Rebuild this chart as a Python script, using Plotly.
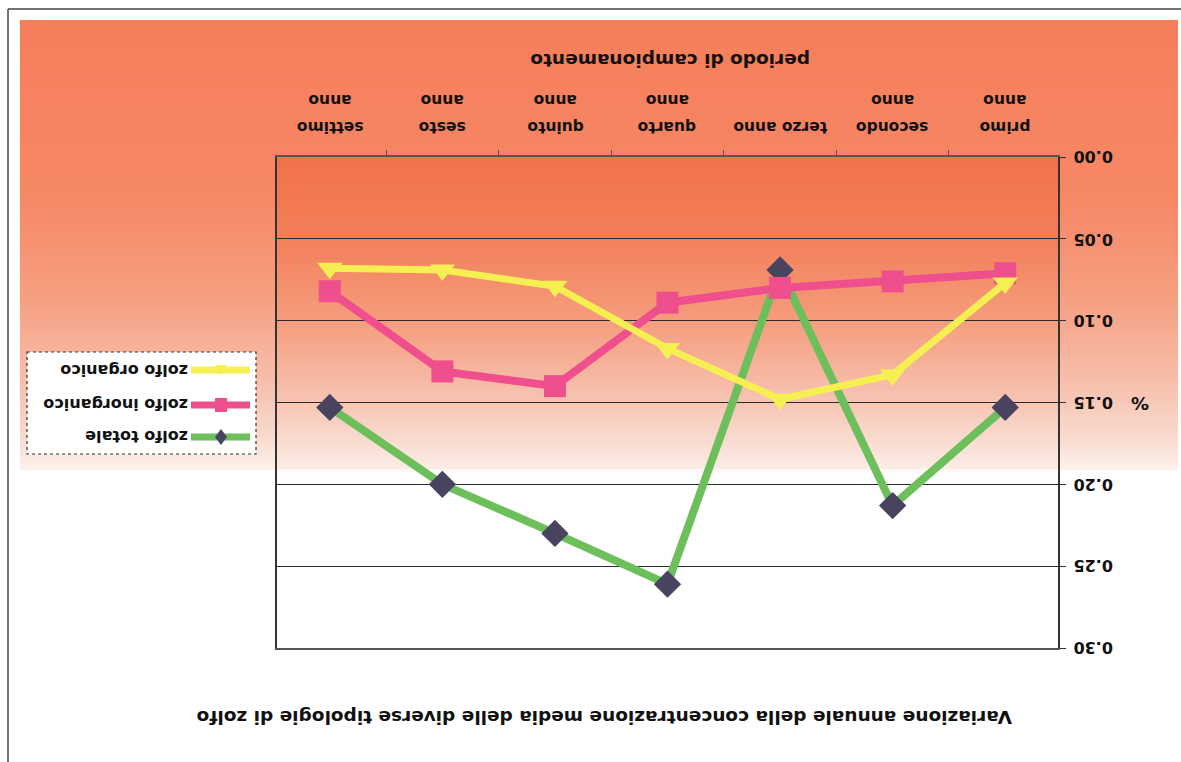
import numpy as np
import plotly.graph_objects as go

# ---- data -------------------------------------------------------------
anni = ["primo<br>anno", "secondo<br>anno", "terzo anno", "quarto<br>anno",
        "quinto<br>anno", "sesto<br>anno", "settimo<br>anno"]
zolfo_totale = [0.153, 0.213, 0.069, 0.261, 0.230, 0.200, 0.153]
zolfo_inorganico = [0.071, 0.076, 0.080, 0.089, 0.140, 0.131, 0.082]
zolfo_organico = [0.077, 0.133, 0.148, 0.117, 0.079, 0.069, 0.068]
y_ticks = [0.00, 0.05, 0.10, 0.15, 0.20, 0.25, 0.30]

titolo = "Variazione annuale della concentrazione media delle diverse tipologie di zolfo"
titolo_x = "periodo di campionamento"
titolo_y = "%"

# ---- page geometry (pixels) -------------------------------------------
W, H = 1181, 762
PL, PR, PT, PB = 277, 1058, 157, 648
FONT = "DejaVu Sans"

GREEN = "#6dbf5c"
PINK = "#ef4f8d"
YELLOW = "#f6ef52"
DIAMOND = "#484460"


def px(x):
    return x / W


def py(y):
    return 1 - y / H


shapes = []
annotations = []


def gradient(x0, x1, stops, step=3):
    ys = [s[0] for s in stops]
    cols = np.array([s[1] for s in stops], dtype=float)
    y = ys[0]
    while y < ys[-1]:
        yc = y + step / 2
        c = [np.interp(yc, ys, cols[:, k]) for k in range(3)]
        shapes.append(dict(type="rect", xref="paper", yref="paper",
                           x0=px(x0), x1=px(x1), y0=py(y), y1=py(min(y + step, ys[-1]) + 0.5),
                           fillcolor="rgb(%d,%d,%d)" % tuple(int(round(v)) for v in c),
                           line=dict(width=0), layer="below"))
        y += step


# chart-area background fading from orange to white
gradient(20, 1178, [(20, (246, 126, 90)), (200, (246, 136, 102)), (300, (246, 160, 130)),
                    (380, (247, 190, 170)), (440, (249, 220, 208)), (470, (252, 242, 238))])
# plot-area background, a little deeper at the top
gradient(PL, PR, [(PT, (242, 114, 74)), (240, (243, 128, 90)), (320, (245, 156, 125)),
                  (400, (247, 195, 178)), (468, (251, 236, 229)), (472, (255, 255, 255))])

# outer frame
shapes.append(dict(type="line", xref="paper", yref="paper", x0=px(8), x1=px(1181),
                   y0=py(9), y1=py(9), line=dict(color="#444", width=1.5)))
shapes.append(dict(type="line", xref="paper", yref="paper", x0=px(8), x1=px(8),
                   y0=py(9), y1=py(762), line=dict(color="#444", width=1.5)))

# ---- legend, drawn by hand ---------------------------------------------
LX0, LX1, LY0, LY1 = 27, 256, 352, 454
shapes.append(dict(type="rect", xref="paper", yref="paper", x0=px(LX0), x1=px(LX1),
                   y0=py(LY0), y1=py(LY1), fillcolor="white",
                   line=dict(color="#333", width=1.2, dash="dot")))
legend_rows = [("zolfo organico", YELLOW, "triangle", 370),
               ("zolfo inorganico", PINK, "square", 405),
               ("zolfo totale", GREEN, "diamond", 437)]
for name, col, sym, yy in legend_rows:
    shapes.append(dict(type="line", xref="paper", yref="paper", x0=px(191), x1=px(250),
                       y0=py(yy), y1=py(yy), line=dict(color=col, width=7)))
    cx = 221
    if sym == "square":
        shapes.append(dict(type="rect", xref="paper", yref="paper", x0=px(cx - 6), x1=px(cx + 6),
                           y0=py(yy - 7), y1=py(yy + 7), fillcolor=PINK, line=dict(width=0)))
    elif sym == "diamond":
        path = "M %f %f L %f %f L %f %f L %f %f Z" % (px(cx), py(yy - 8), px(cx + 6), py(yy),
                                                     px(cx), py(yy + 8), px(cx - 6), py(yy))
        shapes.append(dict(type="path", xref="paper", yref="paper", path=path,
                           fillcolor=DIAMOND, line=dict(width=0)))
    else:
        path = "M %f %f L %f %f L %f %f Z" % (px(cx - 6), py(yy - 5), px(cx + 6), py(yy - 5),
                                             px(cx), py(yy + 5))
        shapes.append(dict(type="path", xref="paper", yref="paper", path=path,
                           fillcolor=YELLOW, line=dict(width=0)))
    annotations.append(dict(xref="paper", yref="paper", x=px(190), y=py(yy), text=name,
                            textangle=180, xanchor="right", yanchor="middle", showarrow=False,
                            font=dict(family=FONT, size=16, color="#111", weight="bold")))

# titles (the whole chart is shown turned through 180 degrees)
annotations.append(dict(xref="paper", yref="paper", x=px(605), y=py(718), text=titolo,
                        textangle=180, showarrow=False, xanchor="center", yanchor="middle",
                        font=dict(family=FONT, size=18.5, color="#111", weight="bold")))
annotations.append(dict(xref="paper", yref="paper", x=px(670), y=py(60), text=titolo_x,
                        textangle=180, showarrow=False, xanchor="center", yanchor="middle",
                        font=dict(family=FONT, size=18.5, color="#111", weight="bold")))
annotations.append(dict(xref="paper", yref="paper", x=px(1140), y=py(404), text=titolo_y,
                        textangle=180, showarrow=False, xanchor="center", yanchor="middle",
                        font=dict(family=FONT, size=18, color="#111", weight="bold")))

# category labels, turned upside down, one annotation per text line
for a in anni:
    for i, riga in enumerate(a.split("<br>")):
        annotations.append(dict(xref="x", yref="paper", x=a, y=py(127 - 27 * i), text=riga,
                                textangle=180, showarrow=False, xanchor="center",
                                yanchor="middle",
                                font=dict(family=FONT, size=15.5, color="#111", weight="bold")))
for v in y_ticks:
    annotations.append(dict(xref="paper", yref="y", x=px(PR + 14), y=v, text="%.2f" % v,
                            textangle=180, showarrow=False, xanchor="left", yanchor="middle",
                            font=dict(family=FONT, size=16, color="#111", weight="bold")))

# ---- series -------------------------------------------------------------
fig = go.Figure()
fig.add_trace(go.Scatter(x=anni, y=zolfo_totale, mode="lines+markers", name="zolfo totale",
                         line=dict(color=GREEN, width=8),
                         marker=dict(symbol="diamond", size=21, color=DIAMOND)))
fig.add_trace(go.Scatter(x=anni, y=zolfo_inorganico, mode="lines+markers", name="zolfo inorganico",
                         line=dict(color=PINK, width=8),
                         marker=dict(symbol="square", size=22, color=PINK)))
fig.add_trace(go.Scatter(x=anni, y=zolfo_organico, mode="lines+markers", name="zolfo organico",
                         line=dict(color=YELLOW, width=7),
                         marker=dict(symbol="triangle-down", size=22, color=YELLOW)))

fig.update_layout(
    width=W, height=H,
    margin=dict(l=0, r=0, t=0, b=0),
    paper_bgcolor="white",
    plot_bgcolor="rgba(0,0,0,0)",
    showlegend=False,
    shapes=shapes,
    annotations=annotations,
    xaxis=dict(domain=[px(PL), px(PR)], side="top", type="category", autorange="reversed",
               showline=True, mirror=True, linecolor="#555", linewidth=1.5,
               ticks="outside", tickson="boundaries", ticklen=5, tickcolor="#555",
               showticklabels=False, showgrid=False),
    yaxis=dict(domain=[py(PB), py(PT)], side="right", range=[0.30, 0.0], tickvals=y_ticks,
               showline=True, mirror=True, linecolor="#333", linewidth=2,
               ticks="outside", ticklen=6, tickcolor="#333", showticklabels=False,
               showgrid=True, gridcolor="#2a2a2a", gridwidth=1, zeroline=False),
)

fig.write_html("out.html")
